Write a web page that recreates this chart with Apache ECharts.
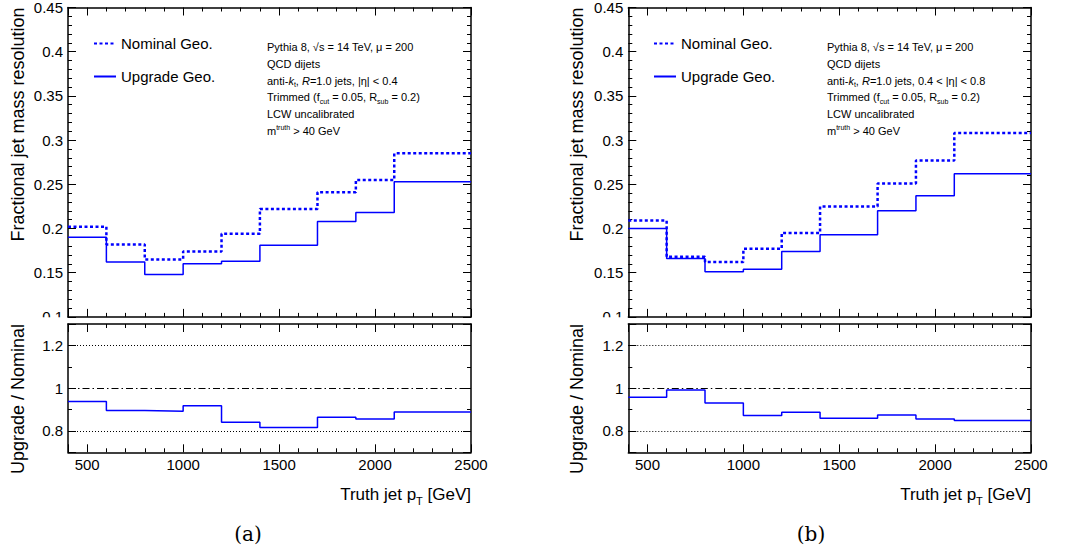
<!DOCTYPE html>
<html><head><meta charset="utf-8">
<script src="https://cdn.jsdelivr.net/npm/echarts@6/dist/echarts.min.js"></script>
<style>html,body{margin:0;padding:0;background:#fff}#c{width:1081px;height:553px}</style>
</head><body><div id="c"></div>
<script>
// ---- data ----
const binEdges = [400, 600, 800, 1000, 1200, 1400, 1700, 1900, 2100, 2500];
const nominalA = [0.202, 0.182, 0.165, 0.174, 0.194, 0.222, 0.241, 0.255, 0.285];
const upgradeA = [0.190, 0.162, 0.148, 0.160, 0.163, 0.181, 0.208, 0.218, 0.253];
const ratioA   = [0.938, 0.895, 0.892, 0.918, 0.841, 0.816, 0.864, 0.856, 0.889];
const nominalB = [0.209, 0.168, 0.162, 0.177, 0.195, 0.225, 0.251, 0.277, 0.308];
const upgradeB = [0.200, 0.166, 0.151, 0.154, 0.174, 0.193, 0.220, 0.237, 0.262];
const ratioB   = [0.957, 0.991, 0.931, 0.872, 0.887, 0.859, 0.875, 0.856, 0.849];
const refLevels = [1.2, 1.0, 0.8];
const legendNames = ['Nominal Geo.', 'Upgrade Geo.'];
const yTitleTop = 'Fractional jet mass resolution';
const yTitleRatio = 'Upgrade / Nominal';
const xTitle = 'Truth jet p{s|T} [GeV]';
const annotA = [
  'Pythia 8, √s = 14 TeV, μ = 200',
  'QCD dijets',
  'anti-{i|k}{s|t}, {i|R}=1.0 jets, |η| < 0.4',
  'Trimmed (f{s|cut} = 0.05, R{s|sub} = 0.2)',
  'LCW uncalibrated',
  'm{p|truth} > 40 GeV'
];
const annotB = [
  'Pythia 8, √s = 14 TeV, μ = 200',
  'QCD dijets',
  'anti-{i|k}{s|t}, {i|R}=1.0 jets, 0.4 < |η| < 0.8',
  'Trimmed (f{s|cut} = 0.05, R{s|sub} = 0.2)',
  'LCW uncalibrated',
  'm{p|truth} > 40 GeV'
];
const panelLabels = ['(a)', '(b)'];

// ---- layout ----
const FONT = '"Liberation Sans", Arial, Helvetica, sans-serif';
const BLUE = '#0000ff';
const panels = [
  {left: 68, width: 403, titleX: 18, legendX: 93, annotX: 267, labelX: 248, coverX: 0,
   nominal: nominalA, upgrade: upgradeA, ratio: ratioA, annot: annotA, label: panelLabels[0]},
  {left: 628.3, width: 402.7, titleX: 577, legendX: 653, annotX: 827, labelX: 811, coverX: 540,
   nominal: nominalB, upgrade: upgradeB, ratio: ratioB, annot: annotB, label: panelLabels[1]}
];
const TOP = {top: 7.5, height: 309.4};
const RAT = {top: 324, height: 128.3};

function steps(vals) {
  return binEdges.map((e, i) => [e, vals[Math.min(i, vals.length - 1)]]);
}
const plain = v => String(Math.round(v * 1000) / 1000);

const grids = [], xAxes = [], yAxes = [], series = [], legends = [], graphics = [];
const black = {color: '#000'};

function xPair(gi, showLabels) {
  const base = {
    type: 'value', gridIndex: gi, min: 400, max: 2500, splitNumber: 4,
    axisLine: {onZero: false, lineStyle: {color: '#000', width: 1.5}},
    axisTick: {inside: true, length: 8, lineStyle: black},
    minorTick: {show: true, splitNumber: 5, length: 4, lineStyle: black},
    splitLine: {show: false}
  };
  xAxes.push(Object.assign({}, base, {position: 'bottom',
    axisLabel: {show: showLabels, showMinLabel: false, formatter: plain,
                color: '#000', fontSize: 15, fontFamily: FONT, margin: 5}}));
  xAxes.push(Object.assign({}, base, {position: 'top', axisLabel: {show: false}}));
}
function yPair(gi, isRatio) {
  const base = isRatio ? {
    type: 'value', gridIndex: gi, min: 0.7, max: 1.3, splitNumber: 3,
    minorTick: {show: true, splitNumber: 2, length: 4, lineStyle: black}
  } : {
    type: 'value', gridIndex: gi, min: 0.1, max: 0.45, interval: 0.05,
    minorTick: {show: true, splitNumber: 5, length: 4, lineStyle: black}
  };
  Object.assign(base, {
    axisLine: {onZero: false, lineStyle: {color: '#000', width: 1.5}},
    axisTick: {inside: true, length: 8, lineStyle: black},
    splitLine: {show: false}
  });
  yAxes.push(Object.assign({}, base, {position: 'left',
    axisLabel: {show: true, showMinLabel: !isRatio, showMaxLabel: !isRatio, formatter: plain,
                color: '#000', fontSize: 15, fontFamily: FONT, margin: 5}}));
  yAxes.push(Object.assign({}, base, {position: 'right', axisLabel: {show: false}}));
}

const legendText = {fontSize: 15, fontFamily: 'Liberation Sans', color: '#000'};

panels.forEach((p, k) => {
  const gTop = 2 * k, gRat = 2 * k + 1;
  grids.push({left: p.left, width: p.width, top: TOP.top, height: TOP.height, containLabel: false});
  grids.push({left: p.left, width: p.width, top: RAT.top, height: RAT.height, containLabel: false});
  xPair(gTop, false); xPair(gRat, true);
  yPair(gTop, false); yPair(gRat, true);

  series.push({
    type: 'line', name: legendNames[0], xAxisIndex: 2 * gTop, yAxisIndex: 2 * gTop,
    step: 'end', symbol: 'none', data: steps(p.nominal), z: 4,
    lineStyle: {color: BLUE, width: 2.5, type: [3, 2.5]}, itemStyle: {color: BLUE}
  });
  series.push({
    type: 'line', name: legendNames[1], xAxisIndex: 2 * gTop, yAxisIndex: 2 * gTop,
    step: 'end', symbol: 'none', data: steps(p.upgrade), z: 4,
    lineStyle: {color: BLUE, width: 1.5, type: 'solid'}, itemStyle: {color: BLUE}
  });
  series.push({
    type: 'line', name: 'ratio' + k, xAxisIndex: 2 * gRat, yAxisIndex: 2 * gRat,
    step: 'end', symbol: 'none', data: steps(p.ratio), z: 4,
    lineStyle: {color: BLUE, width: 1.5}, itemStyle: {color: BLUE},
    markLine: {
      silent: true, symbol: 'none', label: {show: false}, animation: false,
      data: refLevels.map(v => ({yAxis: v,
        lineStyle: {color: '#000', width: 1, type: v === 1 ? [7, 3, 1.5, 3] : [1, 2]}}))
    }
  });

  legends.push({
    left: p.legendX, top: 36, orient: 'vertical', padding: 0,
    data: legendNames.map(n => ({name: n, textStyle: legendText})),
    itemWidth: 22, itemHeight: 14, itemGap: 18, selectedMode: false,
    itemStyle: {opacity: 0, color: 'rgba(0,0,0,0)', borderWidth: 0},
    textStyle: legendText
  });

  graphics.push({type: 'text', x: p.titleX, y: TOP.top, rotation: Math.PI / 2, z: 100,
    style: {text: yTitleTop, font: '18px ' + FONT, fill: '#000', align: 'right', verticalAlign: 'middle',
            textAlign: 'right', textVerticalAlign: 'middle'}});
  graphics.push({type: 'text', x: p.titleX, y: RAT.top, rotation: Math.PI / 2, z: 100,
    style: {text: yTitleRatio, font: '18px ' + FONT, fill: '#000', align: 'right', verticalAlign: 'middle',
            textAlign: 'right', textVerticalAlign: 'middle'}});
  graphics.push({type: 'text', x: p.left + p.width, y: 494, z: 100,
    style: {text: xTitle, font: '17px ' + FONT, fill: '#000', align: 'right', verticalAlign: 'middle',
            textAlign: 'right', textVerticalAlign: 'middle',
            rich: {s: {fontSize: 11, fontFamily: FONT, padding: [14, 0, 0, 0]}}}});
  graphics.push({type: 'text', x: p.labelX, y: 534, z: 100,
    style: {text: p.label, font: '20px "DejaVu Serif", "Liberation Serif", serif', fill: '#000',
            align: 'center', verticalAlign: 'middle', textAlign: 'center', textVerticalAlign: 'middle'}});
  p.annot.forEach((line, i) => {
    graphics.push({type: 'text', x: p.annotX, y: 47 + 16.8 * i, z: 100,
      style: {text: line, font: '11px ' + FONT, fill: '#000', align: 'left', verticalAlign: 'middle',
              textAlign: 'left', textVerticalAlign: 'middle',
              rich: {
                i: {fontSize: 11, fontFamily: FONT, fontStyle: 'italic'},
                s: {fontSize: 7, fontFamily: FONT, padding: [8, 0, 0, 0]},
                p: {fontSize: 7, fontFamily: FONT, padding: [0, 0, 7, 0]}
              }}});
  });
  // the ratio pad covers the lower half of the lowest label of the upper pad
  graphics.push({type: 'rect', z: 50, shape: {x: p.coverX, y: 317.2, width: p.left - 1.5 - p.coverX, height: 6},
    style: {fill: '#fff'}});
});

const chart = echarts.init(document.getElementById('c'), null, {renderer: 'svg'});
chart.setOption({
  animation: false,
  backgroundColor: '#fff',
  grid: grids, xAxis: xAxes, yAxis: yAxes, series: series,
  legend: legends, graphic: graphics
});
</script></body></html>
